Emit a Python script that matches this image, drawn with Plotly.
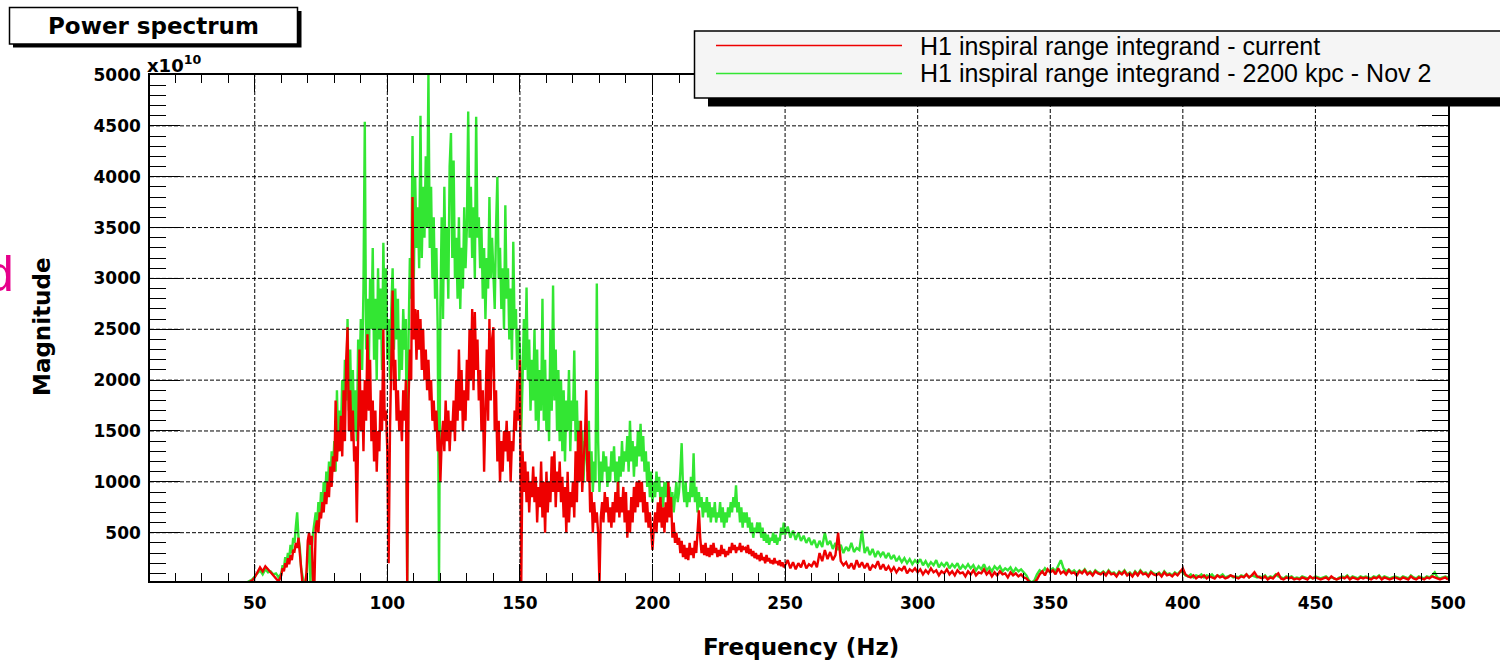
import numpy as np
import plotly.graph_objects as go

# ---------------- data (units of 1e10) ----------------
# frequency sampling grid (Hz)
FREQ = np.concatenate([np.arange(44, 60, 1.0), np.arange(60, 250, 0.5), np.arange(250, 501, 1.0)])

CURRENT_LOW = [0, 0, 0, 5, 15, 30, 60, 110, 160, 120, 170, 140, 110, 80, 40, 20]  # 44-59 Hz
CURRENT_MID = [  # 60-249.5 Hz, 0.5 Hz step
    80, 150, 120, 200, 160, 250, 190, 280, 230, 330,
    320, 400, 350, 450, 300, 150, 0, 0, 0, 100,
    420, 500, 380, 470, 0, 0, 550, 620, 500, 700,
    640, 800, 700, 900, 780, 1000, 850, 1150, 950, 1250,
    1100, 1800, 1200, 1500, 1300, 1650, 1250, 1900, 1400, 2200,
    2520, 1500, 1900, 1400, 1700, 1200, 1350, 600, 1600, 2300,
    1500, 1900, 1300, 2000, 1600, 2450, 1700, 2200, 1400, 1800,
    1200, 1700, 1100, 1500, 1300, 1900, 1500, 2500, 1600, 1700,
    1300, 200, 1500, 2100, 2880, 1900, 2200, 1600, 1900, 1500,
    1700, 1400, 1900, 1600, 2000, 0, 1800, 2300, 2000, 3800,
    2400, 2700, 2200, 2690, 2300, 2600, 2100, 2500, 2000, 2300,
    1900, 2200, 1800, 2000, 1600, 1800, 1500, 1700, 1300, 1500,
    1000, 1400, 1600, 1300, 1800, 1400, 1700, 1300, 1600, 1500,
    1800, 1400, 2000, 1600, 2300, 1700, 2100, 1500, 1900, 1600,
    2200, 1800, 2500, 2000, 2700, 1900, 2670, 2100, 2400, 1800,
    2100, 1500, 1900, 1100, 1700, 2300, 1600, 2600, 1800, 2400,
    2520, 1500, 1900, 1200, 1600, 1000, 1400, 1100, 1500, 1300,
    1600, 1200, 1500, 1000, 1400, 1300, 1700, 1500, 2000, 1600,
    2200, 0, 1300, 900, 1200, 800, 1100, 700, 1000, 850,
    1150, 800, 1050, 600, 950, 750, 1200, 650, 1000, 500,
    1100, 700, 1000, 800, 1250, 900, 1300, 750, 1100, 900,
    1200, 800, 1050, 650, 950, 500, 1100, 600, 900, 750,
    1000, 650, 1300, 800, 1500, 1000, 1600, 900, 1200, 1400,
    1900, 1000, 1300, 700, 900, 500, 800, 600, 700, 500,
    0, 650, 800, 600, 900, 700, 850, 600, 750, 550,
    800, 600, 900, 700, 1000, 650, 850, 700, 950, 600,
    900, 450, 720, 500, 850, 600, 950, 700, 1000, 750,
    1015, 800, 1000, 700, 900, 600, 800, 550, 700, 450,
    330, 550, 700, 500, 800, 600, 850, 550, 750, 500,
    800, 600, 1000, 650, 850, 450, 600, 400, 500, 380,
    450, 300, 420, 260, 380, 240, 350, 230, 400, 280,
    350, 250, 420, 300, 500, 720, 450, 300, 380, 280,
    400, 270, 350, 260, 380, 280, 400, 300, 350, 260,
    330, 270, 380, 290, 340, 260, 320, 280, 360, 300,
    400, 330, 380, 300, 360, 330, 400, 310, 370, 340,
    350, 300, 380, 290, 340, 270, 320, 250, 300, 240,
    280, 220, 300, 230, 260, 200, 280, 220, 250, 200,
    230, 190, 250, 200, 220, 180, 230, 170, 210, 160,
]
CURRENT_HIGH = [  # 250-500 Hz, 1 Hz step
    180, 230, 150, 210, 140, 200, 160, 230, 150, 190,
    170, 220, 160, 300, 220, 330, 240, 310, 230, 280,
    500, 220, 180, 210, 150, 200, 140, 230, 160, 210,
    150, 200, 130, 180, 160, 220, 140, 190, 130, 170,
    120, 160, 110, 150, 130, 170, 100, 140, 120, 150,
    110, 140, 90, 130, 100, 150, 110, 130, 80, 120,
    100, 140, 90, 120, 80, 130, 100, 110, 70, 120,
    90, 130, 80, 110, 100, 140, 90, 120, 70, 110,
    80, 120, 90, 100, 60, 110, 80, 100, 70, 90,
    60, 50, 20, 0, 10, 40, 90, 120, 80, 140,
    110, 130, 90, 150, 100, 120, 90, 130, 100, 110,
    80, 120, 100, 130, 90, 110, 80, 120, 100, 90,
    110, 80, 120, 90, 100, 70, 110, 90, 120, 80,
    100, 70, 110, 80, 120, 90, 100, 70, 110, 90,
    80, 100, 70, 110, 80, 90, 70, 100, 80, 110,
    150, 90, 70, 60, 80, 50, 70, 60, 80, 50,
    70, 60, 50, 80, 60, 70, 50, 60, 80, 70,
    60, 50, 70, 60, 90, 60, 80, 110, 70, 60,
    50, 70, 40, 60, 50, 80, 100, 50, 40, 60,
    50, 60, 40, 50, 40, 60, 50, 40, 70, 50,
    60, 50, 40, 50, 60, 40, 70, 50, 40, 50,
    60, 50, 70, 40, 60, 50, 40, 60, 50, 60,
    50, 40, 60, 50, 70, 40, 60, 50, 40, 50,
    60, 50, 40, 60, 50, 40, 70, 50, 40, 60,
    50, 40, 60, 50, 70, 60, 50, 40, 50, 60,
    40,
]

NOV_LOW = [0, 0, 5, 10, 25, 40, 70, 100, 130, 90, 140, 110, 120, 90, 100, 60]  # 44-59 Hz
NOV_MID = [  # 60-249.5 Hz, 0.5 Hz step
    100, 180, 150, 260, 200, 300, 250, 380, 300, 450,
    400, 560, 700, 450, 350, 150, 50, 0, 0, 0,
    300, 450, 0, 350, 500, 600, 700, 550, 800, 650,
    900, 700, 1000, 800, 1100, 900, 1200, 950, 1300, 1100,
    1400, 1100, 1900, 1300, 1700, 1500, 2000, 1600, 2200, 1800,
    2600, 1700, 2300, 1600, 2100, 1500, 1900, 1400, 2400, 2000,
    2600, 2100, 2900, 4540, 2300, 2800, 2100, 3000, 2500, 3300,
    2200, 2800, 2000, 3100, 2400, 2900, 2100, 3350, 2500, 3100,
    2200, 2600, 2000, 2700, 3100, 2300, 2900, 2400, 2800, 2000,
    2500, 2100, 2700, 2300, 2600, 0, 2400, 3200, 2800, 4400,
    3000, 4000, 3300, 3700, 3100, 4600, 3200, 3900, 3400, 4200,
    3500, 5000, 3300, 3900, 3000, 3600, 2800, 3300, 2500, 0,
    2700, 3600, 2600, 3900, 3000, 3500, 2800, 4100, 4430, 3200,
    4160, 3000, 3400, 2800, 3600, 2700, 3300, 2900, 3700, 3100,
    3500, 4640, 3400, 3900, 3200, 3700, 3000, 4590, 3400, 3600,
    3100, 3500, 2800, 3300, 2600, 3200, 2900, 3800, 3000, 3400,
    3100, 2700, 3500, 4000, 3000, 3300, 2700, 3100, 2500, 3720,
    2800, 3100, 2400, 2900, 2200, 3360, 2500, 2700, 2100, 2500,
    2300, 1500, 2000, 2600, 2100, 2910, 2000, 2400, 1700, 2200,
    1800, 2500, 1600, 2300, 1500, 2100, 1700, 2800, 1600, 2200,
    1500, 2000, 1400, 2500, 1700, 2930, 1800, 2300, 1500, 2100,
    1400, 2000, 1300, 1900, 1200, 1800, 1500, 2100, 1300, 1800,
    1600, 2290, 1400, 1800, 1200, 1600, 1100, 1500, 1000, 1400,
    1300, 1100, 1600, 1000, 1300, 900, 1200, 1000, 2950, 1400,
    900, 1200, 1000, 1300, 1100, 1250, 950, 1150, 1000, 1300,
    1100, 1350, 1000, 1200, 900, 1250, 1050, 1400, 1100, 1300,
    1200, 1450, 1100, 1600, 1200, 1400, 1050, 1350, 1150, 1500,
    1250, 1570, 1200, 1450, 1100, 1300, 950, 1200, 850, 1100,
    800, 1000, 850, 1100, 900, 1050, 800, 950, 750, 1000,
    850, 1000, 800, 950, 750, 900, 700, 850, 1000, 800,
    900, 1100, 1380, 950, 800, 1000, 750, 900, 800, 1050,
    850, 1280, 800, 950, 700, 900, 750, 850, 650, 800,
    700, 850, 650, 800, 600, 750, 650, 800, 600, 700,
    650, 800, 600, 750, 550, 700, 600, 750, 650, 800,
    700, 850, 750, 965, 700, 800, 600, 750, 550, 700,
    600, 700, 550, 650, 500, 600, 450, 550, 500, 600,
    500, 600, 450, 550, 420, 500, 400, 480, 380, 450,
    420, 500, 400, 480, 380, 450, 420, 550, 480, 600,
]
NOV_HIGH = [  # 250-500 Hz, 1 Hz step
    480, 560, 450, 520, 430, 500, 420, 470, 400, 450,
    380, 430, 350, 420, 360, 500, 380, 420, 340, 400,
    330, 380, 300, 360, 320, 400, 310, 350, 330, 520,
    300, 360, 280, 340, 260, 320, 270, 310, 250, 300,
    240, 280, 220, 260, 210, 250, 200, 240, 190, 230,
    200, 240, 180, 220, 170, 210, 180, 230, 160, 200,
    170, 210, 150, 190, 160, 200, 140, 180, 150, 190,
    150, 180, 130, 170, 140, 190, 130, 160, 120, 170,
    140, 170, 120, 150, 130, 160, 110, 150, 120, 140,
    110, 80, 30, 10, 30, 90, 130, 110, 150, 120,
    130, 150, 120, 180, 230, 150, 120, 140, 110, 130,
    100, 130, 110, 140, 100, 120, 90, 130, 110, 100,
    120, 90, 130, 100, 110, 80, 120, 100, 130, 90,
    110, 80, 120, 90, 130, 100, 110, 80, 120, 100,
    90, 110, 80, 120, 90, 100, 80, 110, 90, 120,
    110, 80, 70, 90, 60, 80, 70, 90, 60, 80,
    70, 90, 60, 80, 70, 90, 60, 70, 80, 60,
    70, 60, 80, 70, 90, 60, 80, 70, 60, 70,
    60, 80, 50, 70, 60, 90, 70, 60, 50, 70,
    60, 70, 50, 60, 50, 70, 60, 50, 60, 50,
    70, 60, 50, 60, 70, 50, 60, 50, 40, 60,
    70, 60, 80, 50, 70, 60, 50, 70, 60, 70,
    60, 50, 70, 60, 80, 50, 70, 60, 50, 60,
    70, 60, 50, 70, 60, 50, 80, 60, 50, 70,
    60, 50, 70, 60, 80, 110, 60, 50, 60, 70,
    60,
]

CURRENT = CURRENT_LOW + CURRENT_MID + CURRENT_HIGH
NOV = NOV_LOW + NOV_MID + NOV_HIGH

SERIES_NAMES = ["H1 inspiral range integrand - current",
                "H1 inspiral range integrand - 2200 kpc - Nov 2"]
COLORS = ["#ee0000", "#33e633"]

X_TICKS = [50, 100, 150, 200, 250, 300, 350, 400, 450, 500]
Y_TICKS = [500, 1000, 1500, 2000, 2500, 3000, 3500, 4000, 4500, 5000]
X_GRID = X_TICKS[:-1]
Y_GRID = Y_TICKS[:-1]
X_RANGE = [10.5, 500]
Y_RANGE = [25, 5000]

# ---------------- layout geometry ----------------
W_FIG, H_FIG = 1500, 663
L, R, T, B = 150, 1448, 75, 581          # plot frame in page pixels
PW, PH = R - L, B - T


def px(x):
    return (x - L) / PW


def py(y):
    return (B - y) / PH


fig = go.Figure()
fig.add_trace(go.Scatter(x=FREQ, y=NOV, mode="lines", name=SERIES_NAMES[1],
                         line=dict(color=COLORS[1], width=2.4), showlegend=False))
fig.add_trace(go.Scatter(x=FREQ, y=CURRENT, mode="lines", name=SERIES_NAMES[0],
                         line=dict(color=COLORS[0], width=2.4), showlegend=False))

tickfont = dict(family="DejaVu Sans", size=17, color="black", weight="bold")

fig.update_xaxes(range=X_RANGE, tickmode="array", tickvals=X_TICKS, ticktext=[str(v) for v in X_TICKS],
                 ticks="inside", ticklen=17, tickwidth=1.2, tickcolor="black",
                 minor=dict(tickmode="linear", tick0=0, dtick=10, ticks="inside", ticklen=8,
                            tickwidth=1.2, tickcolor="black", showgrid=False),
                 showline=True, linecolor="black", linewidth=1.5, mirror="ticks",
                 showgrid=False, zeroline=False, tickfont=tickfont, ticklabelstandoff=6,
                 layer="above traces")
fig.update_yaxes(range=Y_RANGE, tickmode="array", tickvals=Y_TICKS, ticktext=[str(v) for v in Y_TICKS],
                 ticks="inside", ticklen=30, tickwidth=1.2, tickcolor="black",
                 minor=dict(tickmode="linear", tick0=0, dtick=100, ticks="inside", ticklen=16,
                            tickwidth=1.2, tickcolor="black", showgrid=False),
                 showline=True, linecolor="black", linewidth=1.5, mirror="ticks",
                 showgrid=False, zeroline=False, tickfont=tickfont, ticklabelstandoff=4,
                 layer="above traces")

shapes = []
grid_line = dict(color="black", width=1, dash="4px,2px")
for gx in X_GRID:
    shapes.append(dict(type="line", xref="x", yref="paper", x0=gx, x1=gx, y0=0, y1=1,
                       line=grid_line, layer="above"))
for gy in Y_GRID:
    shapes.append(dict(type="line", xref="paper", yref="y", x0=0, x1=1, y0=gy, y1=gy,
                       line=grid_line, layer="above"))

# title box with shadow
shapes.append(dict(type="rect", xref="paper", yref="paper", x0=px(13), x1=px(301.5), y0=py(47.5), y1=py(11),
                   fillcolor="black", line=dict(width=0), layer="above"))
shapes.append(dict(type="rect", xref="paper", yref="paper", x0=px(9.5), x1=px(297.5), y0=py(44), y1=py(7.5),
                   fillcolor="white", line=dict(color="black", width=1.5), layer="above"))
# legend box with shadow
shapes.append(dict(type="rect", xref="paper", yref="paper", x0=px(708), x1=px(1515), y0=py(106.5), y1=py(40),
                   fillcolor="black", line=dict(width=0), layer="above"))
shapes.append(dict(type="rect", xref="paper", yref="paper", x0=px(694.5), x1=px(1512), y0=py(98), y1=py(31),
                   fillcolor="#f5f5f5", line=dict(color="black", width=1.5), layer="above"))
legend_rows = [45.5, 73.5]
for row, col in zip(legend_rows, COLORS):
    shapes.append(dict(type="line", xref="paper", yref="paper", x0=px(716), x1=px(902), y0=py(row), y1=py(row),
                       line=dict(color=col, width=1.7), layer="above"))

annotations = []
for row, name in zip(legend_rows, SERIES_NAMES):
    annotations.append(dict(text=name, xref="paper", yref="paper", x=px(918), y=py(row),
                            xanchor="left", yanchor="middle", showarrow=False,
                            font=dict(family="Liberation Sans", size=25, color="black")))
annotations.append(dict(text="Power spectrum", xref="paper", yref="paper", x=px(153.5), y=py(25.5),
                        xanchor="center", yanchor="middle", showarrow=False,
                        font=dict(family="DejaVu Sans", size=23, color="black", weight="bold")))
annotations.append(dict(text="x10<sup>10</sup>", xref="paper", yref="paper", x=px(145), y=py(64),
                        xanchor="left", yanchor="middle", showarrow=False,
                        font=dict(family="DejaVu Sans", size=18, color="black", weight="bold")))
annotations.append(dict(text="Frequency (Hz)", xref="paper", yref="paper", x=px(801), y=py(647),
                        xanchor="center", yanchor="middle", showarrow=False,
                        font=dict(family="DejaVu Sans", size=23, color="black", weight="bold")))
annotations.append(dict(text="Magnitude", xref="paper", yref="paper", x=px(42), y=py(327), textangle=-90,
                        xanchor="center", yanchor="middle", showarrow=False,
                        font=dict(family="DejaVu Sans", size=23, color="black", weight="bold")))
annotations.append(dict(text="d", xref="paper", yref="paper", x=px(-16), y=py(274),
                        xanchor="left", yanchor="middle", showarrow=False,
                        font=dict(family="Liberation Sans", size=50, color="#e6008c")))

fig.update_layout(width=W_FIG, height=H_FIG,
                  margin=dict(l=L, r=W_FIG - R, t=T, b=H_FIG - B),
                  paper_bgcolor="white", plot_bgcolor="white", shapes=shapes, annotations=annotations,
                  showlegend=False)

# remove the default 8 px page margin so the figure sits at the page origin
fig.write_html("out.html", config={"displayModeBar": False},
               post_script="document.body.style.margin='0';")
